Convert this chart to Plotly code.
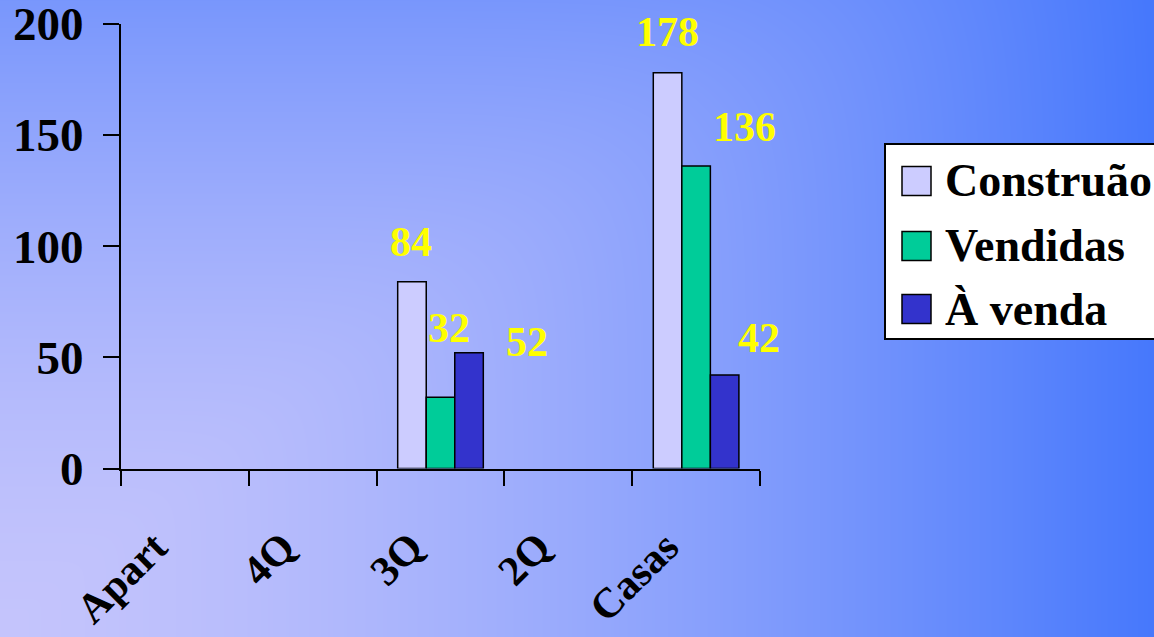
import base64
import struct
import zlib

import numpy as np
import plotly.graph_objects as go

# ---------------- data ----------------
categories = ["Apart", "4Q", "3Q", "2Q", "Casas"]
series_names = ["Construão", "Vendidas", "À venda"]
construcao = [None, None, 84, None, 178]
vendidas = [None, None, 32, None, 136]
a_venda = [None, None, 52, None, 42]
y_tick_values = [0, 50, 100, 150, 200]

# ---------------- styles / positions ----------------
W, H = 1154, 637
bar_colors = ["#CCCCFF", "#00CC99", "#3333CC"]
FONT = "Liberation Serif, Times New Roman, serif"
# data-label offsets (pixels) relative to category centre / bar top, per series
label_offsets = [
    {"3Q": (-30, 40), "Casas": (-29, 41)},
    {"3Q": (8, 69), "Casas": (48, 39)},
    {"3Q": (86, 11), "Casas": (63, 37)},
]


def px_x(p):
    return p / W


def px_y(p):
    return 1 - p / H


# ---------------- background gradient image ----------------
def make_background():
    xs = np.arange(W) / (W - 1)
    ys = np.arange(H) / (H - 1)
    X, Y = np.meshgrid(xs, ys)
    hcomp = X ** 1.5
    vcomp = 0.6 * (1 - Y) ** 1.6
    k = 6.0
    t = np.clip((hcomp ** k + vcomp ** k) ** (1 / k), 0, 1)
    light = np.array([196, 196, 252], dtype=float)
    blue = np.array([70, 120, 252], dtype=float)
    img = light[None, None, :] * (1 - t[..., None]) + blue[None, None, :] * t[..., None]
    img = np.clip(np.round(img), 0, 255).astype(np.uint8)
    raw = b"".join(b"\x00" + img[i].tobytes() for i in range(H))

    def chunk(tag, data):
        c = struct.pack(">I", len(data)) + tag + data
        return c + struct.pack(">I", zlib.crc32(tag + data) & 0xFFFFFFFF)

    png = (b"\x89PNG\r\n\x1a\n"
           + chunk(b"IHDR", struct.pack(">IIBBBBB", W, H, 8, 2, 0, 0, 0))
           + chunk(b"IDAT", zlib.compress(raw, 9))
           + chunk(b"IEND", b""))
    return "data:image/png;base64," + base64.b64encode(png).decode()


fig = go.Figure()
all_series = [construcao, vendidas, a_venda]
for name, vals, color in zip(series_names, all_series, bar_colors):
    fig.add_trace(go.Bar(
        x=categories, y=vals, name=name,
        marker=dict(color=color, line=dict(color="black", width=1.5)),
        showlegend=False, hoverinfo="x+y+name",
    ))

annotations = []
for s_idx, vals in enumerate(all_series):
    for cat, v in zip(categories, vals):
        if v is None:
            continue
        dx, dy = label_offsets[s_idx].get(cat, (0, 35))
        annotations.append(dict(
            x=cat, y=v, xref="x", yref="y", text=str(v), showarrow=False,
            xshift=dx, yshift=dy, xanchor="center", yanchor="middle",
            font=dict(family=FONT, size=42, color="#FFFF00", weight="bold"),
        ))

# custom legend (large square swatches)
shapes = [dict(type="rect", xref="paper", yref="paper",
               x0=px_x(885), x1=px_x(1160), y0=px_y(339), y1=px_y(144),
               fillcolor="white", line=dict(color="black", width=2), layer="above")]
row_centers = [181, 246, 309]
for name, color, yc in zip(series_names, bar_colors, row_centers):
    shapes.append(dict(type="rect", xref="paper", yref="paper",
                       x0=px_x(902), x1=px_x(931), y0=px_y(yc + 14.5), y1=px_y(yc - 14.5),
                       fillcolor=color, line=dict(color="black", width=1.5), layer="above"))
    annotations.append(dict(
        x=px_x(943), y=px_y(yc), xref="paper", yref="paper", text=name,
        showarrow=False, xanchor="left", yanchor="middle",
        font=dict(family=FONT, size=46, color="black", weight="bold"),
    ))

fig.update_layout(
    template="none",
    width=W, height=H, autosize=False,
    margin=dict(l=0, r=0, t=0, b=0, pad=0),
    paper_bgcolor="#8fa0fc", plot_bgcolor="rgba(0,0,0,0)",
    barmode="group", bargap=0.33, bargroupgap=0,
    showlegend=False,
    images=[dict(source=make_background(), xref="paper", yref="paper",
                 x=0, y=1, sizex=1, sizey=1, xanchor="left", yanchor="top",
                 sizing="stretch", layer="below")],
    xaxis=dict(
        type="category", categoryorder="array", categoryarray=categories,
        range=[-0.5, len(categories) - 0.5],
        domain=[px_x(121), px_x(760)], anchor="y",
        showline=True, linecolor="black", linewidth=2,
        ticks="outside", ticklen=15, tickwidth=2, tickcolor="black",
        tickson="boundaries", tickangle=-45,
        ticklabelstandoff=35, ticklabelshift=-30, ticklabeloverflow="allow",
        tickfont=dict(family=FONT, size=42, color="black", weight="bold"),
        showgrid=False, zeroline=False, automargin=False, fixedrange=True,
    ),
    yaxis=dict(
        range=[0, 200], domain=[px_y(468.5), px_y(23.7)], anchor="x",
        tickmode="array", tickvals=y_tick_values,
        ticktext=[str(v) for v in y_tick_values],
        showline=True, linecolor="black", linewidth=2,
        ticks="outside", ticklen=16, tickwidth=2, tickcolor="black",
        ticklabelstandoff=10, ticklabeloverflow="allow",
        tickfont=dict(family=FONT, size=47, color="black", weight="bold"),
        showgrid=False, zeroline=False, automargin=False, fixedrange=True,
    ),
    annotations=annotations,
    shapes=shapes,
)

fig.write_html(
    "out.html",
    config={"displayModeBar": False},
    post_script="document.body.style.margin='0';document.body.style.overflow='hidden';",
)
